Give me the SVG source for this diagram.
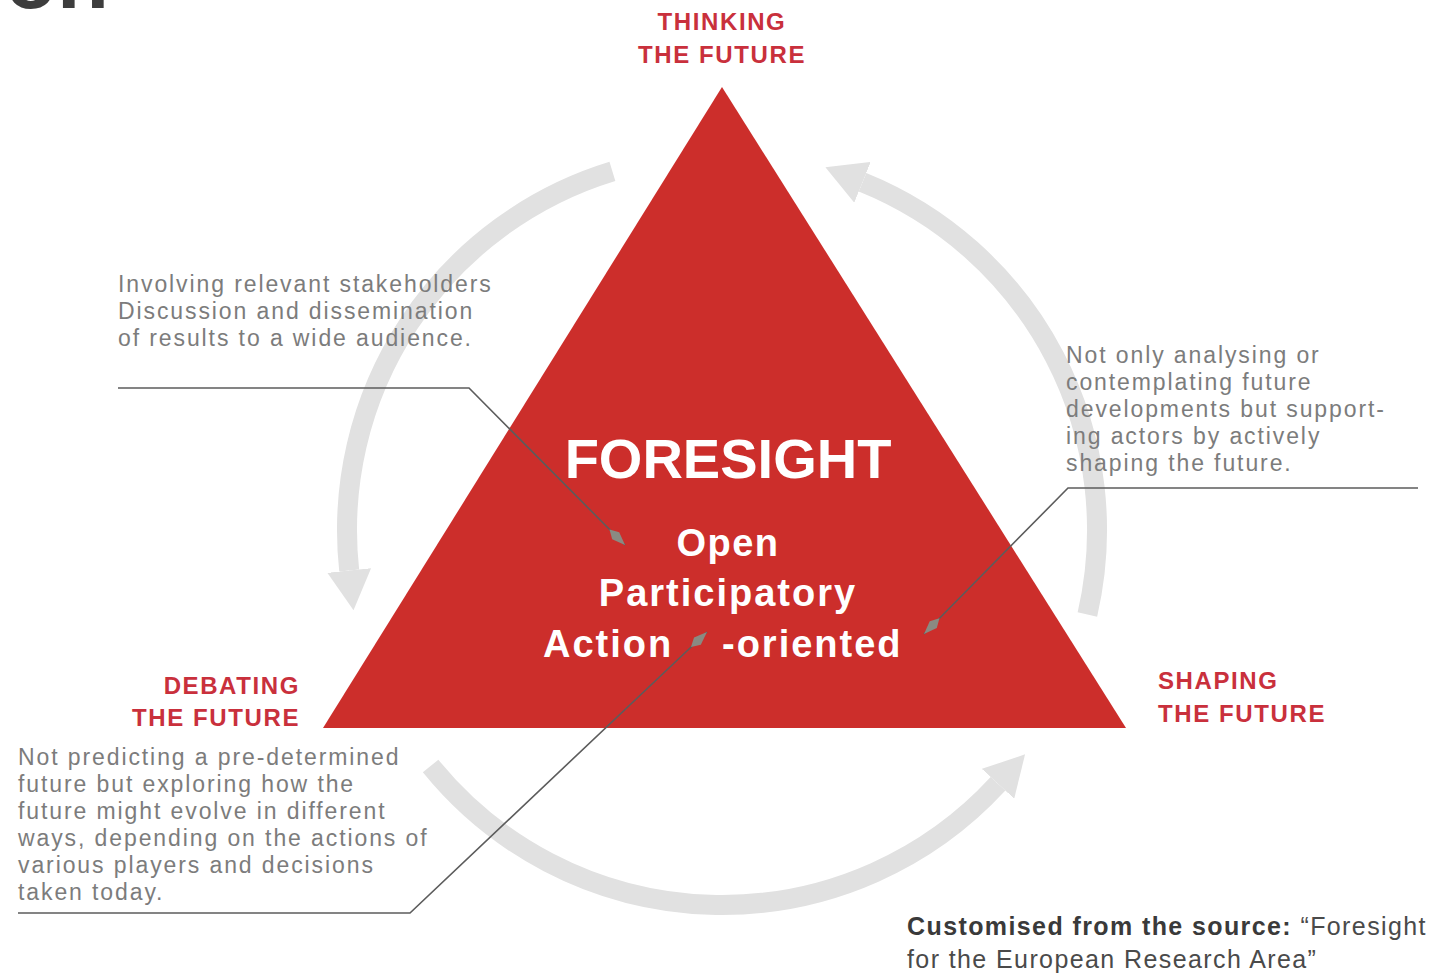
<svg xmlns="http://www.w3.org/2000/svg" width="1442" height="975" viewBox="0 0 1442 975">
<style>
.lbl{font-family:"Liberation Sans",Arial,sans-serif;font-weight:bold;font-size:24px;fill:#c9303c;letter-spacing:1.6px}
.desc{font-family:"Liberation Sans",Arial,sans-serif;font-size:23px;fill:#7c7c7c;letter-spacing:1.9px}
.main{font-family:"Liberation Sans",Arial,sans-serif;font-weight:bold;fill:#ffffff}
.arc{fill:none;stroke:#e1e1e1;stroke-width:20}
.lead{fill:none;stroke:#5c5c5c;stroke-width:1.6}
.src{font-family:"Liberation Sans",Arial,sans-serif;font-size:25px;fill:#4a4a4a;letter-spacing:1.4px}
</style>
<defs>
<marker id="garrow" viewBox="0 0 20 22" refX="0" refY="11" markerWidth="2" markerHeight="2.2" orient="auto" markerUnits="strokeWidth">
<path d="M0,0 L20,11 L0,22 z" fill="#e1e1e1"/>
</marker>
<marker id="spear" viewBox="0 0 20 10" refX="20" refY="5" markerWidth="22" markerHeight="11" orient="auto" markerUnits="userSpaceOnUse">
<path d="M0,5 L8,0.5 L20,5 L8,9.5 z" fill="#8a8a82"/>
</marker>
</defs>
<rect width="1442" height="975" fill="#ffffff"/>
<text x="5" y="8" font-family="'Liberation Sans',Arial,sans-serif" font-weight="bold" font-size="85" fill="#3d3d3d">on</text>

<g id="cycle-arcs">
<path class="arc" d="M612.4,171.4 A375,375 0 0 0 349.2,570.5" marker-end="url(#garrow)"/>
<path class="arc" d="M1087.4,614.4 A375,375 0 0 0 862.5,182.3" marker-end="url(#garrow)"/>
<path class="arc" d="M430.6,766 A375,375 0 0 0 998,783.8" marker-end="url(#garrow)"/>
</g>

<g id="foresight">
<polygon points="722,87 323,728 1126,728" fill="#cc2e2b"/>
<text class="main" x="728" y="478" font-size="56" text-anchor="middle">FORESIGHT</text>
<text class="main" x="728" y="556" font-size="38" text-anchor="middle" letter-spacing="1.5">Open</text>
<text class="main" x="728" y="606" font-size="38" text-anchor="middle" letter-spacing="2">Participatory</text>
<text class="main" font-size="38" y="657" letter-spacing="2"><tspan x="543">Action</tspan><tspan x="722">-oriented</tspan></text>
</g>

<g id="thinking">
<text class="lbl" x="722" y="30" text-anchor="middle">THINKING</text>
<text class="lbl" x="722" y="63" text-anchor="middle">THE FUTURE</text>
</g>

<g id="debating">
<text class="lbl" x="300" y="694" text-anchor="end">DEBATING</text>
<text class="lbl" x="300" y="726" text-anchor="end">THE FUTURE</text>
</g>

<g id="shaping">
<text class="lbl" x="1158" y="689">SHAPING</text>
<text class="lbl" x="1158" y="722">THE FUTURE</text>
</g>

<g id="note-participatory">
<text class="desc" x="118" y="292">Involving relevant stakeholders</text>
<text class="desc" x="118" y="319">Discussion and dissemination</text>
<text class="desc" x="118" y="346">of results to a wide audience.</text>
</g>

<g id="note-action">
<text class="desc" x="1066" y="363">Not only analysing or</text>
<text class="desc" x="1066" y="390">contemplating future</text>
<text class="desc" x="1066" y="417">developments but support-</text>
<text class="desc" x="1066" y="444">ing actors by actively</text>
<text class="desc" x="1066" y="471">shaping the future.</text>
</g>

<g id="note-open">
<text class="desc" x="18" y="765">Not predicting a pre-determined</text>
<text class="desc" x="18" y="792">future but exploring how the</text>
<text class="desc" x="18" y="819">future might evolve in different</text>
<text class="desc" x="18" y="846">ways, depending on the actions of</text>
<text class="desc" x="18" y="873">various players and decisions</text>
<text class="desc" x="18" y="900">taken today.</text>
</g>

<g id="source">
<text class="src" x="907" y="935"><tspan font-weight="bold" fill="#3a3a3a">Customised from the source:</tspan> “Foresight</text>
<text class="src" x="907" y="968">for the European Research Area”</text>
</g>

<g id="connectors">
<polyline class="lead" points="118,388 469,388 625,545" marker-end="url(#spear)"/>
<polyline class="lead" points="1418,488 1068,488 924,634" marker-end="url(#spear)"/>
<polyline class="lead" points="18,913 410,913 707,632" marker-end="url(#spear)"/>
</g>
</svg>
